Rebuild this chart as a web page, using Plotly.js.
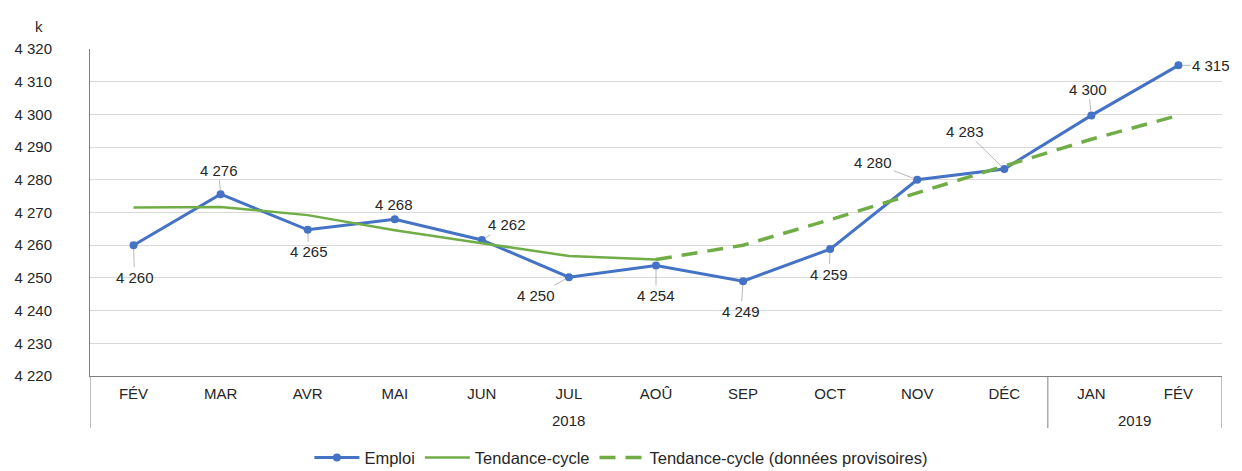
<!DOCTYPE html>
<html>
<head>
<meta charset="utf-8">
<script src="https://cdn.plot.ly/plotly-3.0.1.min.js"></script>
<style>html,body{margin:0;padding:0;background:#fff;}#chart{width:1242px;height:471px;}</style>
</head>
<body>
<div id="chart"></div>
<script>
// Data
var years = ['2018','2018','2018','2018','2018','2018','2018','2018','2018','2018','2018','2019','2019'];
var months = ['FÉV','MAR','AVR','MAI','JUN','JUL','AOÛ','SEP','OCT','NOV','DÉC','JAN','FÉV'];
var emploi = [4260, 4275.6, 4264.7, 4267.9, 4261.6, 4250.2, 4253.8, 4249.0, 4258.8, 4280.0, 4283.3, 4299.7, 4315.0];
var tendance = [4271.5, 4271.7, 4269.2, 4264.6, 4260.6, 4256.7, 4255.6, null, null, null, null, null, null];
var tendanceProv = [null, null, null, null, null, null, 4255.6, 4260.0, 4267.8, 4276.0, 4284.1, 4292.4, 4299.7];

// label offsets (px) for data labels of Emploi
var labelAx = [1, -2, 1, -1, 25, -33, 0, -2, -1, -44, -39, -3, 33];
var labelAy = [32, -24, 22, -15, -15, 18, 30, 30, 25, -17, -38, -26, 0];

function fmt(v){
  var s = String(Math.round(v));
  return s.replace(/\B(?=(\d{3})+(?!\d))/g, ' ');
}

var idx = months.map(function(m, i){ return i; });
var font = 'Liberation Sans, Arial, sans-serif';
var txt = '#262626';

var traces = [
  {x: idx, y: emploi, name: 'Emploi', type: 'scatter', mode: 'lines+markers',
   line: {color: '#4472C4', width: 3}, marker: {color: '#4472C4', size: 8}},
  {x: idx, y: tendance, name: 'Tendance-cycle', type: 'scatter', mode: 'lines',
   line: {color: '#70AD47', width: 2.5}},
  {x: idx, y: tendanceProv, name: 'Tendance-cycle (données provisoires)', type: 'scatter', mode: 'lines',
   line: {color: '#70AD47', width: 3.5, dash: '16px,10px'}}
];

var annotations = emploi.map(function(v, i){
  return {x: i, y: v, xref: 'x', yref: 'y', text: fmt(v), showarrow: true,
    arrowhead: 0, arrowwidth: 0.8, arrowcolor: '#a6a6a6', standoff: 4,
    ax: labelAx[i], ay: labelAy[i], font: {family: font, size: 15, color: txt}};
});
annotations.push({xref: 'paper', yref: 'paper', x: -0.0504, y: 1.101, text: 'k', showarrow: false,
  font: {family: font, size: 15, color: txt}});

// year group labels and dividers, derived from the years array
var shapes = [];
var groups = [];
years.forEach(function(y, i){
  if (!groups.length || groups[groups.length-1].year !== y) groups.push({year: y, start: i, end: i});
  else groups[groups.length-1].end = i;
});
groups.forEach(function(g){
  annotations.push({xref: 'x', yref: 'paper', x: (g.start + g.end) / 2, y: -0.1346, yanchor: 'middle',
    text: g.year, showarrow: false, font: {family: font, size: 15, color: txt}});
  shapes.push({type: 'line', xref: 'x', yref: 'paper', x0: g.start - 0.5, x1: g.start - 0.5, y0: 0, y1: -0.159,
    line: {color: '#7f7f7f', width: 1}});
});
shapes.push({type: 'line', xref: 'x', yref: 'paper', x0: years.length - 0.5, x1: years.length - 0.5, y0: 0, y1: -0.159,
  line: {color: '#7f7f7f', width: 1}});

var layout = {
  width: 1242, height: 471,
  margin: {l: 90, r: 20, t: 49, b: 95, autoexpand: false},
  paper_bgcolor: '#fff', plot_bgcolor: '#fff',
  separators: ', ',
  font: {family: font, size: 15, color: txt},
  showlegend: true,
  legend: {orientation: 'h', xref: 'paper', x: 0.469, xanchor: 'center', yref: 'paper', y: -0.25, yanchor: 'middle',
    font: {family: font, size: 16.5, color: txt}, itemwidth: 45, traceorder: 'normal'},
  xaxis: {range: [-0.5, months.length - 0.5], tickmode: 'array', tickvals: idx, ticktext: months,
    showline: true, linecolor: '#7f7f7f', linewidth: 1, showgrid: false, zeroline: false, ticks: '',
    ticklabelstandoff: 4, tickfont: {family: font, size: 15, color: txt}, fixedrange: true, automargin: false},
  yaxis: {range: [4220, 4320], dtick: 10, tick0: 4220, showline: true, linecolor: '#7f7f7f', linewidth: 1,
    showgrid: true, gridcolor: '#d9d9d9', gridwidth: 1, zeroline: false, ticks: '',
    separatethousands: true, ticklabelstandoff: 34,
    tickfont: {family: font, size: 15, color: txt}, fixedrange: true, automargin: false},
  annotations: annotations,
  shapes: shapes
};

Plotly.newPlot('chart', traces, layout, {displayModeBar: false, staticPlot: true});
</script>
</body>
</html>
